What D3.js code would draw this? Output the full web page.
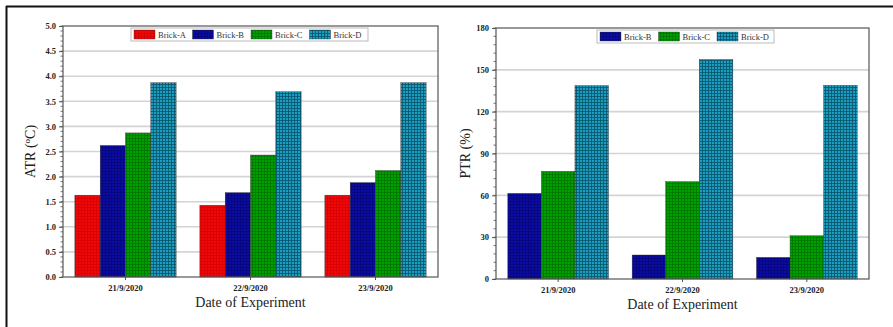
<!DOCTYPE html>
<html>
<head>
<meta charset="utf-8">
<script src="https://cdn.jsdelivr.net/npm/d3@7"></script>
<style>
  body { margin: 0; background: #fff; }
  svg { display: block; }
  text { font-family: "Liberation Serif", "DejaVu Serif", serif; }
</style>
</head>
<body>
<div id="drawingArea"></div>
<script>
const dates = ["21/9/2020", "22/9/2020", "23/9/2020"];

// ATR (°C) per brick
const atrBricks = ["Brick-A", "Brick-B", "Brick-C", "Brick-D"];
const atrA = [1.63, 1.43, 1.63];
const atrB = [2.62, 1.68, 1.88];
const atrC = [2.87, 2.43, 2.12];
const atrD = [3.87, 3.69, 3.87];
const atrTicks = [0, 0.5, 1, 1.5, 2, 2.5, 3, 3.5, 4, 4.5, 5];

// PTR (%) per brick
const ptrBricks = ["Brick-B", "Brick-C", "Brick-D"];
const ptrB = [61.4, 17.2, 15.5];
const ptrC = [77.2, 69.8, 31];
const ptrD = [138.7, 157.4, 138.9];
const ptrTicks = [0, 30, 60, 90, 120, 150, 180];

const W = 893, H = 327;
const svg = d3.select("#drawingArea").append("svg")
    .attr("width", W)
    .attr("height", H);

// colour + hatch pattern for each brick
const brickStyle = {
    "Brick-A": { fill: "#ee0a0a", line: "#dc0000" },
    "Brick-B": { fill: "#0c0ca2", line: "#07077e" },
    "Brick-C": { fill: "#00a000", line: "#007800" },
    "Brick-D": { fill: "#1a9fc0", line: "#0a5870" }
};

const defs = svg.append("defs");
Object.keys(brickStyle).forEach((k, i) => {
    const s = brickStyle[k];
    const p = defs.append("pattern")
        .attr("id", "pat" + i)
        .attr("patternUnits", "userSpaceOnUse")
        .attr("width", 3)
        .attr("height", 3);
    p.append("rect").attr("width", 3).attr("height", 3).attr("fill", s.fill);
    p.append("path")
        .attr("d", "M0,0.5H3M0.5,0V3")
        .attr("stroke", s.line)
        .attr("stroke-width", 0.9);
    s.url = "url(#pat" + i + ")";
});

// outer frame (top and left edges)
svg.append("line").attr("x1", 6).attr("y1", 6.5).attr("x2", W).attr("y2", 6.5)
    .attr("stroke", "#111").attr("stroke-width", 2);
svg.append("line").attr("x1", 6.5).attr("y1", 6).attr("x2", 6.5).attr("y2", H)
    .attr("stroke", "#111").attr("stroke-width", 2);

function drawPanel(cfg) {
    const g = svg.append("g");
    const x = d3.scaleBand().domain(dates).range([cfg.x0, cfg.x1]).paddingInner(0.19).paddingOuter(0.095);
    const y = d3.scaleLinear().domain([0, cfg.max]).range([cfg.y1, cfg.y0]);
    const x1 = d3.scaleBand().domain(cfg.bricks).range([0, x.bandwidth()]);

    // gridlines
    g.append("g").selectAll("line").data(cfg.ticks.filter(t => t > 0 && t < cfg.max)).join("line")
        .attr("x1", cfg.x0).attr("x2", cfg.x1)
        .attr("y1", d => y(d)).attr("y2", d => y(d))
        .attr("stroke", "#d4d4d4").attr("stroke-width", 1.6);

    // bars
    cfg.bricks.forEach((b, bi) => {
        g.append("g").selectAll("rect").data(cfg.series[bi]).join("rect")
            .attr("x", (d, i) => x(dates[i]) + x1(b))
            .attr("y", d => y(d))
            .attr("width", x1.bandwidth())
            .attr("height", d => y(0) - y(d))
            .attr("fill", brickStyle[b].url)
            .attr("stroke", "#333")
            .attr("stroke-width", 0.4);
    });

    // plot frame
    g.append("rect")
        .attr("x", cfg.x0).attr("y", cfg.y0)
        .attr("width", cfg.x1 - cfg.x0).attr("height", cfg.y1 - cfg.y0)
        .attr("fill", "none").attr("stroke", "#555").attr("stroke-width", 1.2);

    // y axis with minor ticks
    const minor = d3.range(0, cfg.max + 1e-9, cfg.max / ((cfg.ticks.length - 1) * 5));
    g.append("g").selectAll("line").data(minor).join("line")
        .attr("x1", cfg.x0 - 2.5).attr("x2", cfg.x0)
        .attr("y1", d => y(d)).attr("y2", d => y(d))
        .attr("stroke", "#555").attr("stroke-width", 0.8);
    const yAxis = g.append("g")
        .attr("transform", `translate(${cfg.x0},0)`)
        .call(d3.axisLeft(y).tickValues(cfg.ticks).tickSize(4).tickFormat(cfg.fmt));
    yAxis.select(".domain").remove();
    yAxis.selectAll("line").attr("stroke", "#555");
    yAxis.selectAll("text")
        .attr("font-size", 8.5).attr("font-weight", "bold").attr("fill", "#222");

    // x axis
    const xAxis = g.append("g")
        .attr("transform", `translate(0,${cfg.y1})`)
        .call(d3.axisBottom(x).tickSize(3).tickPadding(5));
    xAxis.select(".domain").remove();
    xAxis.selectAll("line").attr("stroke", "#555");
    xAxis.selectAll("text")
        .attr("font-size", 8.5).attr("font-weight", "bold").attr("fill", "#222");

    // axis titles
    g.append("text")
        .attr("x", (cfg.x0 + cfg.x1) / 2).attr("y", cfg.y1 + 30)
        .attr("text-anchor", "middle")
        .attr("font-size", 14).attr("fill", "#222")
        .text("Date of Experiment");
    const yt = g.append("text")
        .attr("transform", `translate(${cfg.x0 - cfg.titleGap},${(cfg.y0 + cfg.y1) / 2}) rotate(-90)`)
        .attr("text-anchor", "middle")
        .attr("font-size", 14).attr("fill", "#222");
    cfg.title(yt);

    // legend
    const lg = g.append("g");
    lg.append("rect")
        .attr("x", cfg.legX).attr("y", cfg.legY)
        .attr("width", cfg.legW).attr("height", 13)
        .attr("fill", "#fff").attr("stroke", "#bbb").attr("stroke-width", 1);
    cfg.bricks.forEach((b, i) => {
        const lx = cfg.legX + 3 + i * cfg.legStep;
        lg.append("rect")
            .attr("x", lx).attr("y", cfg.legY + 2)
            .attr("width", 21).attr("height", 9)
            .attr("fill", brickStyle[b].url)
            .attr("stroke", "#333").attr("stroke-width", 0.4);
        lg.append("text")
            .attr("x", lx + 24).attr("y", cfg.legY + 9.5)
            .attr("font-size", 8.5).attr("fill", "#333")
            .text(b);
    });
}

drawPanel({
    x0: 63, x1: 438, y0: 26, y1: 277, max: 5,
    bricks: atrBricks, series: [atrA, atrB, atrC, atrD], ticks: atrTicks,
    fmt: d3.format(".1f"), titleGap: 28,
    title: t => {
        t.append("tspan").text("ATR (");
        t.append("tspan").attr("dy", -5).attr("font-size", 9).text("o");
        t.append("tspan").attr("dy", 5).text("C)");
    },
    legX: 131, legY: 28, legW: 237, legStep: 58.5
});

drawPanel({
    x0: 496, x1: 869, y0: 28, y1: 279, max: 180,
    bricks: ptrBricks, series: [ptrB, ptrC, ptrD], ticks: ptrTicks,
    fmt: d3.format("d"), titleGap: 26,
    title: t => t.text("PTR (%)"),
    legX: 597, legY: 30, legW: 177, legStep: 58.5
});
</script>
</body>
</html>
